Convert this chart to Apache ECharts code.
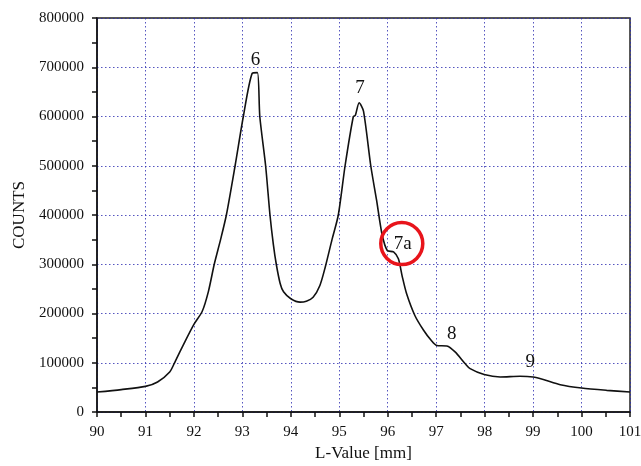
<!DOCTYPE html>
<html>
<head>
<meta charset="utf-8">
<script src="https://cdn.jsdelivr.net/npm/echarts@6/dist/echarts.min.js"></script>
<style>html,body{margin:0;padding:0;background:#fff}#c{width:641px;height:466px}</style>
</head>
<body>
<div id="c"></div>
<script>
var lValues = [90.0, 90.5, 91.0, 91.25, 91.5, 91.62, 91.8, 92.0, 92.17, 92.3, 92.42, 92.55, 92.67, 92.85, 93.02, 93.2, 93.31, 93.36, 93.48, 93.57, 93.64, 93.70, 93.78, 93.85, 94.0, 94.19, 94.32, 94.46, 94.6, 94.71, 94.85, 94.98, 95.12, 95.29, 95.33, 95.41, 95.5, 95.65, 95.77, 95.88, 95.99, 96.12, 96.22, 96.3, 96.39, 96.56, 96.74, 96.9, 97.01, 97.22, 97.39, 97.6, 97.7, 97.99, 98.32, 98.73, 99.0, 99.21, 99.56, 100.0, 100.52, 101.0];
var counts = [40500, 45500, 52000, 61000, 81000, 104000, 140000, 178000, 204000, 245000, 300000, 350000, 400000, 500000, 600000, 687000, 689000, 600000, 500000, 400000, 340000, 300000, 261000, 244000, 230000, 223000, 225000, 233000, 257000, 294000, 350000, 400000, 500000, 600000, 602000, 628000, 611000, 500000, 430000, 362000, 328000, 325000, 311000, 275000, 240000, 196000, 166000, 145000, 135000, 134000, 122000, 98000, 88000, 76000, 71000, 72500, 71000, 66000, 55500, 48700, 44000, 40600];
var xTicks = [90, 91, 92, 93, 94, 95, 96, 97, 98, 99, 100, 101];
var yTicks = [0, 100000, 200000, 300000, 400000, 500000, 600000, 700000, 800000];
var peakLabels = ['6', '7', '7a', '8', '9'];
var peakX = [93.27, 95.43, 96.31, 97.32, 98.94];
var peakY = [714000, 657000, 342000, 158000, 101500];
var circleX = [96.29];
var circleY = [342000];

var curve = lValues.map(function (x, i) { return [x, counts[i]]; });
var ann = peakLabels.map(function (t, i) { return { value: [peakX[i], peakY[i]], name: t }; });
var circ = circleX.map(function (x, i) { return [x, circleY[i]]; });

var font = 'Liberation Serif';
var gridColor = '#2b2bb0';
var chart = echarts.init(document.getElementById('c'), null, { renderer: 'canvas' });
chart.setOption({
  animation: false,
  backgroundColor: '#fff',
  grid: { left: 97, right: 11, top: 18, bottom: 54, containLabel: false, outerBoundsMode: 'none',
    show: true, borderColor: '#222', borderWidth: 1.5, backgroundColor: 'transparent' },
  xAxis: {
    type: 'value', min: xTicks[0], max: xTicks[xTicks.length - 1], interval: 1,
    name: 'L-Value [mm]', nameLocation: 'middle', nameGap: 33,
    nameTextStyle: { fontFamily: font, fontSize: 17, color: '#111' },
    axisLine: { show: true, onZero: false, lineStyle: { color: '#111', width: 1.5 } },
    axisTick: { show: true, length: 5, lineStyle: { color: '#111', width: 1.5 } },
    minorTick: { show: true, splitNumber: 2, length: 5, lineStyle: { color: '#111', width: 1.5 } },
    axisLabel: { fontFamily: font, fontSize: 15, color: '#111', margin: 13 },
    splitLine: { show: true, lineStyle: { color: gridColor, type: [1.5, 2.5], width: 1, opacity: 0.8 } }
  },
  yAxis: {
    type: 'value', min: yTicks[0], max: yTicks[yTicks.length - 1], interval: 100000,
    name: 'COUNTS', nameLocation: 'middle', nameGap: 68, nameRotate: 90,
    nameTextStyle: { fontFamily: font, fontSize: 17, color: '#111' },
    axisLine: { show: true, onZero: false, lineStyle: { color: '#111', width: 1.5 } },
    axisTick: { show: true, length: 5, lineStyle: { color: '#111', width: 1.5 } },
    minorTick: { show: true, splitNumber: 2, length: 5, lineStyle: { color: '#111', width: 1.5 } },
    axisLabel: { fontFamily: font, fontSize: 15, color: '#111', margin: 13, formatter: function (v) { return String(v); } },
    splitLine: { show: true, lineStyle: { color: gridColor, type: [1.5, 2.5], width: 1, opacity: 0.8 } }
  },
  series: [
    {
      type: 'line', data: curve, showSymbol: false, symbol: 'none', smooth: 0.25,
      lineStyle: { color: '#111', width: 1.6 }, z: 3
    },
    {
      type: 'scatter', data: circ, symbol: 'circle', symbolSize: 42,
      itemStyle: { color: 'transparent', borderColor: '#e8141b', borderWidth: 3.5, opacity: 1 }, z: 4, silent: true
    },
    {
      type: 'scatter', data: ann, symbolSize: 0, z: 5, silent: true,
      itemStyle: { opacity: 1 },
      label: { show: true, position: 'inside', formatter: function (p) { return p.name; },
        fontFamily: font, fontSize: 19, color: '#111' }
    }
  ]
});
</script>
</body>
</html>
